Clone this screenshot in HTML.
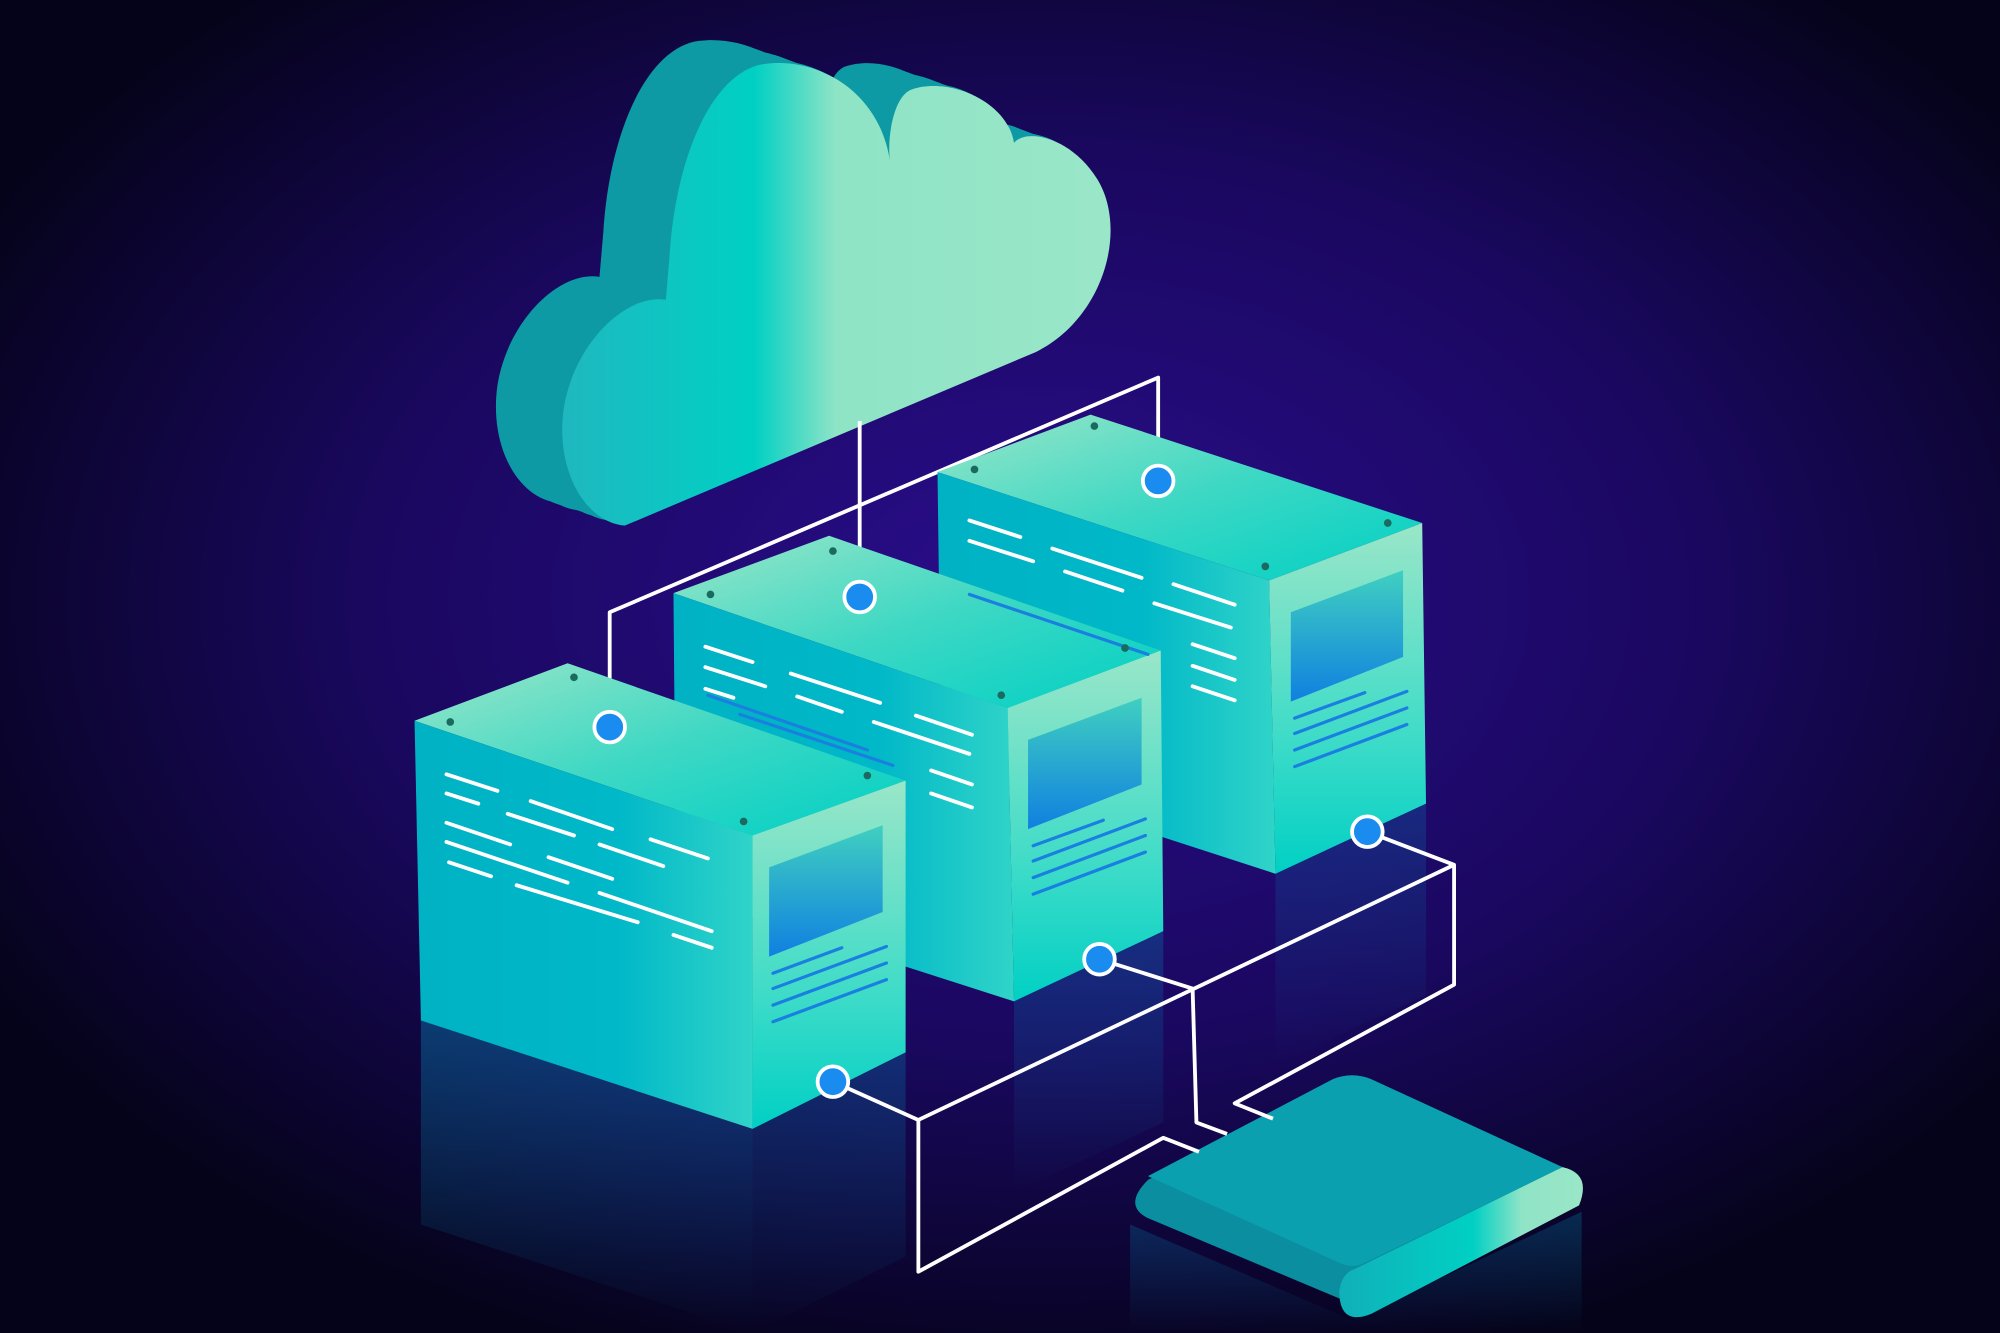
<!DOCTYPE html>
<html><head><style>html,body{margin:0;padding:0;background:#06031f}svg{display:block}</style></head>
<body>
<svg width="2000" height="1333" viewBox="0 0 1568 1045" xmlns="http://www.w3.org/2000/svg">
<defs>
<radialGradient id="bg" cx="52%" cy="45%" r="60%">
<stop offset="0" stop-color="#2a0d8c"/><stop offset="0.55" stop-color="#1a0860"/><stop offset="1" stop-color="#05031a"/>
</radialGradient>
<linearGradient id="cloudF" x1="0" y1="0" x2="1" y2="0">
<stop offset="0" stop-color="#1fb8c0"/><stop offset="0.35" stop-color="#00d0c4"/><stop offset="0.5" stop-color="#8fe4c6"/><stop offset="1" stop-color="#9ae6c8"/>
</linearGradient>
<linearGradient id="topG" x1="0" y1="0" x2="1" y2="1">
<stop offset="0" stop-color="#9ae6c8"/><stop offset="0.5" stop-color="#3ed8c4"/><stop offset="1" stop-color="#00d0c4"/>
</linearGradient>
<linearGradient id="leftG" x1="0" y1="0" x2="1" y2="0">
<stop offset="0" stop-color="#00b2c4"/><stop offset="0.6" stop-color="#00b8c8"/><stop offset="1" stop-color="#30d4c8"/>
</linearGradient>
<linearGradient id="rightG" x1="0" y1="0" x2="0" y2="1">
<stop offset="0" stop-color="#9ae6c8"/><stop offset="0.6" stop-color="#40dcc8"/><stop offset="1" stop-color="#00d0c4"/>
</linearGradient>
<linearGradient id="win" x1="0" y1="0" x2="0" y2="1">
<stop offset="0" stop-color="#40d0c0"/><stop offset="1" stop-color="#1080e0"/>
</linearGradient>
<linearGradient id="refl" x1="0" y1="0" x2="0" y2="1">
<stop offset="0" stop-color="#00a0c8" stop-opacity="0.35"/><stop offset="1" stop-color="#00a0c8" stop-opacity="0"/>
</linearGradient>
<linearGradient id="diskF" x1="0" y1="0" x2="1" y2="0">
<stop offset="0" stop-color="#10b0b8"/><stop offset="0.55" stop-color="#00d0c4"/><stop offset="0.75" stop-color="#90e4c6"/><stop offset="1" stop-color="#9ae6c8"/>
</linearGradient>
</defs>
<rect width="1568" height="1045" fill="url(#bg)"/>

<polygon points="330,800 590,885 590,1045 330,960" fill="url(#refl)"/>
<polygon points="590,885 710,825 710,985 590,1045" fill="url(#refl)" opacity="0.7"/>
<polygon points="795,785 912,730 912,880 795,935" fill="url(#refl)" opacity="0.7"/>
<polygon points="1000,685 1118,630 1118,780 1000,835" fill="url(#refl)" opacity="0.6"/>
<polygon points="886,960 1060,1035 1240,950 1240,1045 886,1045" fill="url(#refl)" opacity="0.7"/>

<g fill="#0e9aa4">
<path id="cl" d="M490,412 L812,276 C865,250 885,180 860,140 C840,108 805,100 795,112 C790,80 745,60 715,70 C700,75 695,110 698,128 C690,70 640,45 600,50 C560,55 530,120 525,200 L522,235 C490,230 450,270 442,320 C435,370 460,410 490,412 Z" transform="translate(-52,-18)"/>
<use href="#cl" transform="translate(8,3)"/><use href="#cl" transform="translate(16,6)"/><use href="#cl" transform="translate(24,8)"/><use href="#cl" transform="translate(32,11)"/><use href="#cl" transform="translate(40,14)"/><use href="#cl" transform="translate(48,16)"/>
</g>
<path d="M490,412 L812,276 C865,250 885,180 860,140 C840,108 805,100 795,112 C790,80 745,60 715,70 C700,75 695,110 698,128 C690,70 640,45 600,50 C560,55 530,120 525,200 L522,235 C490,230 450,270 442,320 C435,370 460,410 490,412 Z" fill="url(#cloudF)"/>

<g stroke="#fff" stroke-width="3" fill="none" stroke-linejoin="round">
<polyline points="908,377 908,296 478,480 478,570"/>
<polyline points="674,330 674,468"/>
</g>

<polygon points="735,370 855,325 1115,410 995,455" fill="url(#topG)"/>
<polygon points="735,370 995,455 1000,685 738,600" fill="url(#leftG)"/>
<polygon points="995,455 1115,410 1118,630 1000,685" fill="url(#rightG)"/>
<polygon points="1012,480 1100,447 1100,515 1012,550" fill="url(#win)"/>
<polygon points="528,465 650,420 910,510 790,555" fill="url(#topG)"/>
<polygon points="528,465 790,555 795,785 530,700" fill="url(#leftG)"/>
<polygon points="790,555 910,510 912,730 795,785" fill="url(#rightG)"/>
<polygon points="806,580 895,547 895,615 806,650" fill="url(#win)"/>
<polygon points="325,565 445,520 710,612 590,655" fill="url(#topG)"/>
<polygon points="325,565 590,655 590,885 330,800" fill="url(#leftG)"/>
<polygon points="590,655 710,612 710,825 590,885" fill="url(#rightG)"/>
<polygon points="603,680 692,647 692,715 603,750" fill="url(#win)"/>

<g stroke="#fff" stroke-width="3" stroke-linecap="round">
<path d="M350,607 L390,620 M416,628 L480,650 M350,622 L375,630 M398,638 L450,655 M470,662 L520,679 M350,645 L400,662 M430,672 L480,689 M510,658 L555,673 M350,660 L445,692 M470,700 L558,730 M352,676 L385,687 M405,694 L500,723 M528,733 L558,743"/>
<path d="M553,507 L590,519 M620,528 L690,551 M553,523 L600,538 M625,546 L660,558 M685,566 L760,591 M718,561 L762,576 M730,604 L762,615 M730,622 L762,633 M553,540 L575,547"/>
<path d="M760,408 L800,421 M825,430 L895,453 M760,424 L810,440 M835,448 L880,463 M905,473 L965,492 M920,458 L968,474 M935,505 L968,516 M935,522 L968,533 M935,538 L968,549"/>
</g>
<g stroke="#1a80e0" stroke-width="2.5" stroke-linecap="round">
<path d="M555,545 L680,588 M580,560 L700,600 M760,466 L900,513"/>
<path d="M606,775 L695,742 M606,788 L695,755 M606,801 L695,768 M606,763 L660,743"/>
<path d="M810,675 L898,642 M810,688 L898,655 M810,701 L898,668 M810,663 L865,643"/>
<path d="M1015,575 L1103,542 M1015,588 L1103,555 M1015,601 L1103,568 M1015,563 L1070,543"/>
</g>
<g fill="#1a6a60">
<circle cx="353" cy="566" r="3"/><circle cx="450" cy="531" r="3"/><circle cx="583" cy="644" r="3"/><circle cx="680" cy="608" r="3"/>
<circle cx="557" cy="466" r="3"/><circle cx="653" cy="432" r="3"/><circle cx="785" cy="545" r="3"/><circle cx="882" cy="508" r="3"/>
<circle cx="764" cy="368" r="3"/><circle cx="858" cy="334" r="3"/><circle cx="992" cy="444" r="3"/><circle cx="1088" cy="410" r="3"/>
</g>

<path d="M900,925 L1045,852 Q1060,846 1075,852 L1225,918 Q1245,930 1232,948 L1080,1025 Q1060,1035 1055,1020 L900,955 Q880,945 900,925 Z" fill="#0a8ea0"/>
<path d="M900,922 L1045,846 Q1060,840 1075,846 L1225,915 L1070,990 Q1060,995 1050,990 L900,922 Z" fill="#0aa0b0"/>
<path d="M1062,995 L1225,915 Q1248,920 1238,945 L1075,1030 Q1050,1040 1050,1012 Q1052,998 1062,995 Z" fill="url(#diskF)"/>

<g stroke="#fff" stroke-width="3" fill="none" stroke-linejoin="round">
<polyline points="1072,652 1140,678 1140,772 968,865 998,877"/>
<polyline points="1140,678 720,878 720,997 912,892 940,903"/>
<polyline points="653,848 720,878"/>
<polyline points="862,752 935,775 938,880 962,889"/>
</g>
<g fill="#1a8cf0" stroke="#fff" stroke-width="3">
<circle cx="908" cy="377" r="12"/><circle cx="674" cy="468" r="12"/><circle cx="478" cy="570" r="12"/>
<circle cx="1072" cy="652" r="12"/><circle cx="862" cy="752" r="12"/><circle cx="653" cy="848" r="12"/>
</g>
</svg>
</body></html>
